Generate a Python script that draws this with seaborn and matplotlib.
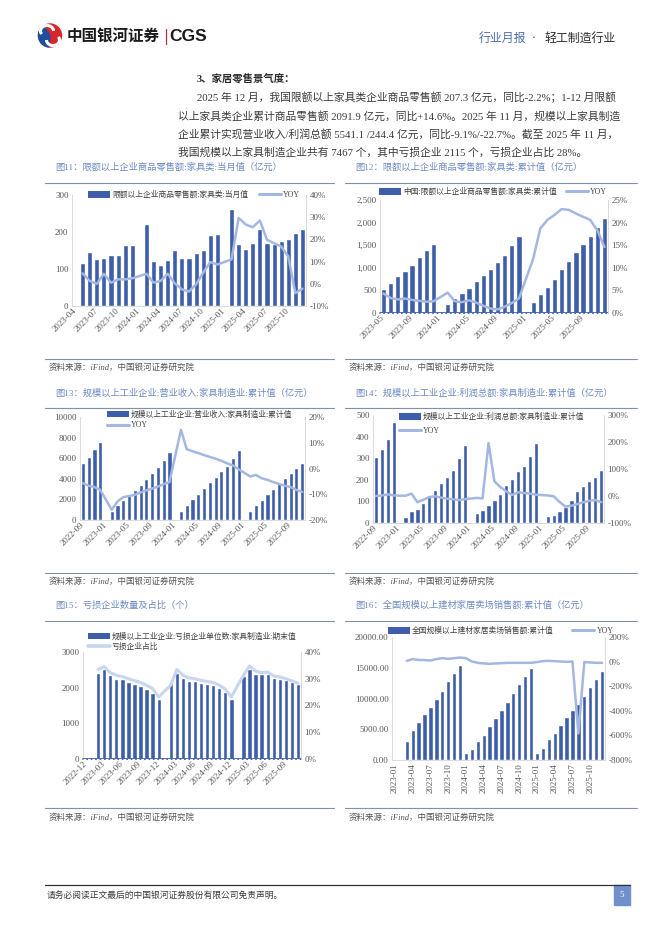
import numpy as np
import pandas as pd
import matplotlib
matplotlib.use("Agg")
import matplotlib.pyplot as plt
import seaborn as sns
from matplotlib.patches import Patch, Rectangle, Circle, Wedge, Arc
from matplotlib.lines import Line2D

nan = np.nan

# ---- data ----
months_11 = list(pd.period_range("2023-04", "2025-12", freq="M").strftime("%Y-%m"))
retail_month = [nan, 117, 147, 127, 130, 138, 138, 165, 165,
                nan, 222, 122, 111, 125, 150, 130, 130, 144, 151, 192, 194,
                nan, 262, 168, 155, 170, 209, 170, 168, 175, 181, 197, 207.3]
retail_month_yoy = [nan, 4.7, 1.3, 0.0, 4.5, 0.5, 2.0, 2.0, 2.5,
                    nan, 4.5, 0.5, 1.3, 4.5, 0.2, -2.5, -3.5, -0.2, 5.0, 9.8, 8.7,
                    nan, 11.0, 29.7, 26.7, 25.5, 28.5, 19.8, 18.3, 16.8, 12.3, -4.2, -2.2]

months_12 = list(pd.period_range("2023-05", "2025-12", freq="M").strftime("%Y-%m"))
retail_cum = [540, 673, 814, 939, 1072, 1235, 1383, 1516,
              nan, 207, 340, 451, 562, 717, 851, 984, 1139, 1294, 1494, 1694,
              nan, 251, 429, 584, 762, 984, 1161, 1339, 1516, 1694, 1893, 2091.9]
retail_cum_yoy = [4.3, 3.3, 3.0, 3.2, 2.9, 2.7, 2.5, 2.6,
                  nan, 4.5, 2.6, 2.4, 2.8, 2.3, 1.6, 1.0, 0.8, 1.4, 2.2, 3.2,
                  nan, 12.0, 18.7, 20.6, 21.7, 23.0, 22.8, 22.0, 21.3, 20.6, 18.3, 14.6]

months_13 = list(pd.period_range("2022-09", "2025-11", freq="M").strftime("%Y-%m"))
revenue = [5500, 6080, 6880, 7620,
           nan, 900, 1480, 1960, 2440, 2930, 3410, 3990, 4530, 5110, 5820, 6590,
           nan, 900, 1450, 2060, 2540, 3090, 3670, 4180, 4760, 5270, 6010, 6780,
           nan, 870, 1450, 1960, 2510, 3020, 3570, 4050, 4570, 5050, 5541.1]
revenue_yoy = [-5.7, -6.7, -7.2, -8.3,
               nan, -16.0, -12.8, -11.1, -10.7, -10.2, -9.3, -8.5, -7.8, -7.0, -6.1, -5.3,
               nan, 15.0, 7.5, 6.7, 6.0, 5.2, 4.5, 3.8, 3.0, 2.0, 1.2, -0.3,
               nan, -3.1, -2.5, -3.8, -4.4, -5.3, -6.0, -6.7, -7.2, -8.3, -9.1]

profit = [305, 342, 388, 468,
          nan, 26, 57, 66, 92, 129, 152, 186, 214, 246, 300, 360,
          nan, 48, 62, 83, 108, 135, 177, 205, 243, 265, 309, 369,
          nan, 34, 37, 57, 74, 106, 149, 172, 195, 214, 244.4]
profit_yoy = [0, 2, 6, 2,
              nan, 1, 9, -23, -14, -4, -1, -6, -10, -12, -15, -12,
              nan, -7, -9, 196, 54, 33, 17, 4, 14, 11, 9, 5,
              nan, 2, -1, -22, -39, -36, -30, -23, -18, -15, -22.7]

months_15 = list(pd.period_range("2022-12", "2025-11", freq="M").strftime("%Y-%m"))
loss_units = [nan, nan, 2414, 2516, 2348, 2237, 2237, 2162, 2106, 2050, 1976, 1864, 1696,
              nan, 2143, 2423, 2274, 2190, 2199, 2125, 2116, 2069, 1994, 1883, 1696,
              nan, 2330, 2535, 2376, 2376, 2395, 2283, 2255, 2218, 2162, 2115]
loss_share = [nan, nan, 33.5, 34.5, 32.3, 31.3, 30.8, 30.0, 29.3, 28.6, 27.6, 26.3, 23.2,
              nan, 27.6, 33.5, 31.3, 30.3, 30.0, 29.4, 29.0, 28.6, 27.6, 26.1, 23.2,
              nan, 31.3, 34.8, 32.8, 32.3, 32.5, 31.0, 30.7, 30.0, 29.2, 28.3]

months_16 = list(pd.period_range("2023-01", "2025-12", freq="M").strftime("%Y-%m"))
mall_sales = [nan, nan, 3160, 4800, 6100, 7410, 8560, 9860, 11280, 12810, 14110, 15420,
              1090, 1850, 3050, 4140, 5450, 6810, 8070, 9370, 10840, 12320, 13680, 14990,
              1090, 2020, 3380, 4410, 5670, 6920, 8120, 9100, 10410, 11880, 13130, 14440]
mall_sales_yoy = [nan, nan, 6, 20, 14, 12, 9, 20, 28, 22, 28, 33,
                  28, 1, -10, -15, -18, -15, -13, -10, -10, -10, -10, -10,
                  -4, 4, 6, 3, 1, -2, 1, -585, -4, -7, -10, -10]

para_lines = [
    "2025 年 12 月，我国限额以上家具类企业商品零售额 207.3 亿元，同比-2.2%；1-12 月限额",
    "以上家具类企业累计商品零售额 2091.9 亿元，同比+14.6%。2025 年 11 月，规模以上家具制造",
    "企业累计实现营业收入/利润总额 5541.1 /244.4 亿元，同比-9.1%/-22.7%。截至 2025 年 11 月，",
    "我国规模以上家具制造企业共有 7467 个，其中亏损企业 2115 个，亏损企业占比 28%。",
]

BAR = "#3d5eab"
LINE = "#a3b7e1"
LINE15 = "#c8d6ef"
SPINE = "#d6d6d6"
TXT = "#595959"
TITLE_C = "#6d8bc4"
SEP = "#8391a6"

sns.set_theme(style="white")
plt.rcParams["font.family"] = ["Liberation Serif", "Noto Sans CJK SC", "DejaVu Sans"]
plt.rcParams["axes.unicode_minus"] = False

W, H = 662, 936
fig = plt.figure(figsize=(W / 100, H / 100), dpi=100)
page = fig.add_axes([0, 0, 1, 1])
page.set_xlim(0, W)
page.set_ylim(H, 0)
page.axis("off")


def px_axes(x0, y0, x1, y1):
    return fig.add_axes([x0 / W, 1 - y1 / H, (x1 - x0) / W, (y1 - y0) / H])


def panel(rect, cats, bars, line, ylim, ystep, yfmt, y2lim, y2step, every, rot,
          labels, leg_xy, ncol, colspace=1.5, labelspacing=0.4,
          line_color=LINE, line_w=1.8, zero_dash=False):
    ax = px_axes(*rect)
    n = len(cats)
    df = pd.DataFrame({"month": cats, "value": bars}).dropna()
    sns.barplot(data=df, x="month", y="value", order=cats, color=BAR,
                saturation=1, width=0.72, errorbar=None, ax=ax)
    ax2 = ax.twinx()
    ldf = pd.DataFrame({"pos": np.arange(n), "yoy": line}).dropna()
    sns.lineplot(data=ldf, x="pos", y="yoy", ax=ax2, color=line_color,
                 linewidth=line_w, sort=False, solid_joinstyle="round")
    ax.set_xlim(-0.5, n - 0.5)
    ax.set_ylim(*ylim)
    ax2.set_ylim(*y2lim)
    for a in (ax, ax2):
        a.set_xlabel("")
        a.set_ylabel("")
        a.tick_params(length=0, labelsize=6.5, labelcolor=TXT, pad=2.5)
        for s in a.spines.values():
            s.set_visible(False)
    ax.spines["left"].set_visible(True)
    ax.spines["bottom"].set_visible(True)
    ax2.spines["right"].set_visible(True)
    for s in (ax.spines["left"], ax.spines["bottom"], ax2.spines["right"]):
        s.set_color(SPINE)
        s.set_linewidth(0.6)

    yt = np.arange(ylim[0], ylim[1] + ystep / 2, ystep)
    ax.set_yticks(yt)
    ax.set_yticklabels([yfmt.format(v) for v in yt])
    y2t = np.arange(y2lim[0], y2lim[1] + y2step / 2, y2step)
    ax2.set_yticks(y2t)
    ax2.set_yticklabels([f"{v:.0f}%" for v in y2t])

    xt = list(range(0, n, every))
    ax.set_xticks(xt)
    ax.set_xticklabels([cats[i] for i in xt])
    for lbl in ax.get_xticklabels():
        lbl.set_rotation(rot)
        lbl.set_ha("right")
        lbl.set_va("center")
        lbl.set_rotation_mode("anchor")

    if zero_dash:
        ax.axhline(0, color=BAR, lw=1.3, clip_on=False, zorder=4)
        ax.axhline(0, color="white", lw=0.8, ls=(0, (2.5, 1.5)), clip_on=False, zorder=5)

    handles = [Patch(facecolor=BAR, edgecolor="none"),
               Line2D([], [], color=line_color, lw=line_w + 0.4)]
    ax2.legend(handles, labels, loc="center left",
               bbox_to_anchor=(leg_xy[0] / W, 1 - leg_xy[1] / H),
               bbox_transform=fig.transFigure, ncol=ncol, frameon=False,
               fontsize=5.6, handlelength=2.8, handleheight=0.9,
               handletextpad=0.3, columnspacing=colspace,
               labelspacing=labelspacing, borderaxespad=0, borderpad=0)
    for t in ax2.get_legend().get_texts():
        t.set_color("#404040")
    return ax, ax2


# ---- header ----
page.add_patch(Circle((50, 35.5), 11.5, color="#d8262d"))
page.add_patch(Wedge((50, 35.5), 11.5, 95, 235, color="#1d4f9e"))
page.add_patch(Arc((47, 31), 13, 11, theta1=150, theta2=360, color="white", lw=2.2))
page.add_patch(Arc((53, 40), 13, 11, theta1=-30, theta2=180, color="white", lw=2.2))
page.text(67, 36.5, "中国银河证券", fontsize=11.2, fontweight="bold", color="#1a1a1a",
          family=["Noto Sans CJK SC"], va="center", ha="left")
page.plot([166, 166], [29, 44], color="#b0323a", lw=0.9)
page.text(169, 36.5, "CGS", fontsize=12.5, fontweight="bold", color="#1a1a1a",
          family=["Liberation Sans"], va="center", ha="left")
page.text(479, 38, "行业月报", fontsize=8.6, color="#4d6eae",
          family=["Noto Sans CJK SC"], va="center", ha="left")
page.text(534, 38, "·", fontsize=8.6, color="#2b2b2b",
          family=["Liberation Serif"], va="center", ha="center")
page.text(616, 38, "轻工制造行业", fontsize=8.6, color="#2b2b2b",
          family=["Noto Sans CJK SC"], va="center", ha="right")

# ---- paragraph ----
page.text(197, 78, "3、家居零售景气度：", fontsize=7.5, fontweight="bold", color="#2b2b2b",
          va="center", ha="left")
para_x = [197, 178, 178, 178]
para_y = [97, 116, 134, 153]
for x, y, s in zip(para_x, para_y, para_lines):
    page.text(x, y, s, fontsize=7.75, color="#3a3a3a", va="center", ha="left")

# ---- figure titles, separators, sources ----
titles = [
    (55, 167, "图11：限额以上企业商品零售额:家具类:当月值（亿元）"),
    (355, 167, "图12：限额以上企业商品零售额:家具类:累计值（亿元）"),
    (55, 393, "图13：规模以上工业企业:营业收入:家具制造业:累计值（亿元）"),
    (355, 393, "图14：规模以上工业企业:利润总额:家具制造业:累计值（亿元）"),
    (55, 605, "图15：亏损企业数量及占比（个）"),
    (355, 605, "图16：全国规模以上建材家居卖场销售额:累计值（亿元）"),
]
for x, y, s in titles:
    page.text(x, y, s, fontsize=6.7, color=TITLE_C, va="center", ha="left")

for ytop, ysrc_line, ysrc in [(183, 359, 368), (408, 573, 582), (621, 808, 818)]:
    for x0, x1, xs in [(45, 334, 49), (345, 637, 349)]:
        page.plot([x0, x1], [ytop, ytop], color=SEP, lw=0.8)
        page.plot([x0, x1], [ysrc_line, ysrc_line], color=SEP, lw=0.8)
        page.text(xs, ysrc, "资料来源：iFind，中国银河证券研究院", fontsize=6.1,
                  color="#555555", style="italic", va="center", ha="left")

# ---- charts ----
panel((72, 195, 306, 306), months_11, retail_month, retail_month_yoy,
      (0, 300), 100, "{:.0f}", (-10, 40), 10, 3, 45,
      ["限额以上企业商品零售额:家具类:当月值", "YOY"], (88, 195), 2, colspace=1.4)

panel((380, 200, 608, 313), months_12, retail_cum, retail_cum_yoy,
      (0, 2500), 500, "{:,.0f}", (0, 25), 5, 4, 45,
      ["中国:限额以上企业商品零售额:家具类:累计值", "YOY"], (379, 192), 2,
      colspace=1.2, zero_dash=True)

panel((80, 417, 305, 520), months_13, revenue, revenue_yoy,
      (0, 10000), 2000, "{:.0f}", (-20, 20), 10, 4, 45,
      ["规模以上工业企业:营业收入:家具制造业:累计值", "YOY"], (107, 420), 1,
      labelspacing=0.35)

panel((373, 415, 604, 523), months_13, profit, profit_yoy,
      (0, 500), 100, "{:.0f}", (-100, 300), 100, 4, 45,
      ["规模以上工业企业:利润总额:家具制造业:累计值", "YOY"], (399, 424), 1,
      labelspacing=0.75)

panel((83, 652, 301, 759), months_15, loss_units, loss_share,
      (0, 3000), 1000, "{:.0f}", (0, 40), 10, 3, 45,
      ["规模以上工业企业:亏损企业单位数:家具制造业:期末值", "亏损企业占比"], (88, 642), 1,
      labelspacing=0.3, line_color=LINE15, line_w=2.2, zero_dash=True)

panel((392, 637, 605, 760), months_16, mall_sales, mall_sales_yoy,
      (0, 20000), 5000, "{:.2f}", (-800, 200), 200, 3, 90,
      ["全国规模以上建材家居卖场销售额:累计值", "YOY"], (388, 631), 2, colspace=2.4)

# ---- footer ----
page.plot([45, 630], [885, 885], color="#333333", lw=0.9)
page.text(47, 895, "请务必阅读正文最后的中国银河证券股份有限公司免责声明。", fontsize=6.3,
          color="#3a3a3a", va="center", ha="left")
page.add_patch(Rectangle((614, 885), 16, 20, color="#7190cb"))
page.text(622, 895, "5", fontsize=6.5, color="white", va="center", ha="center")

fig.savefig("out.png", dpi=100)
